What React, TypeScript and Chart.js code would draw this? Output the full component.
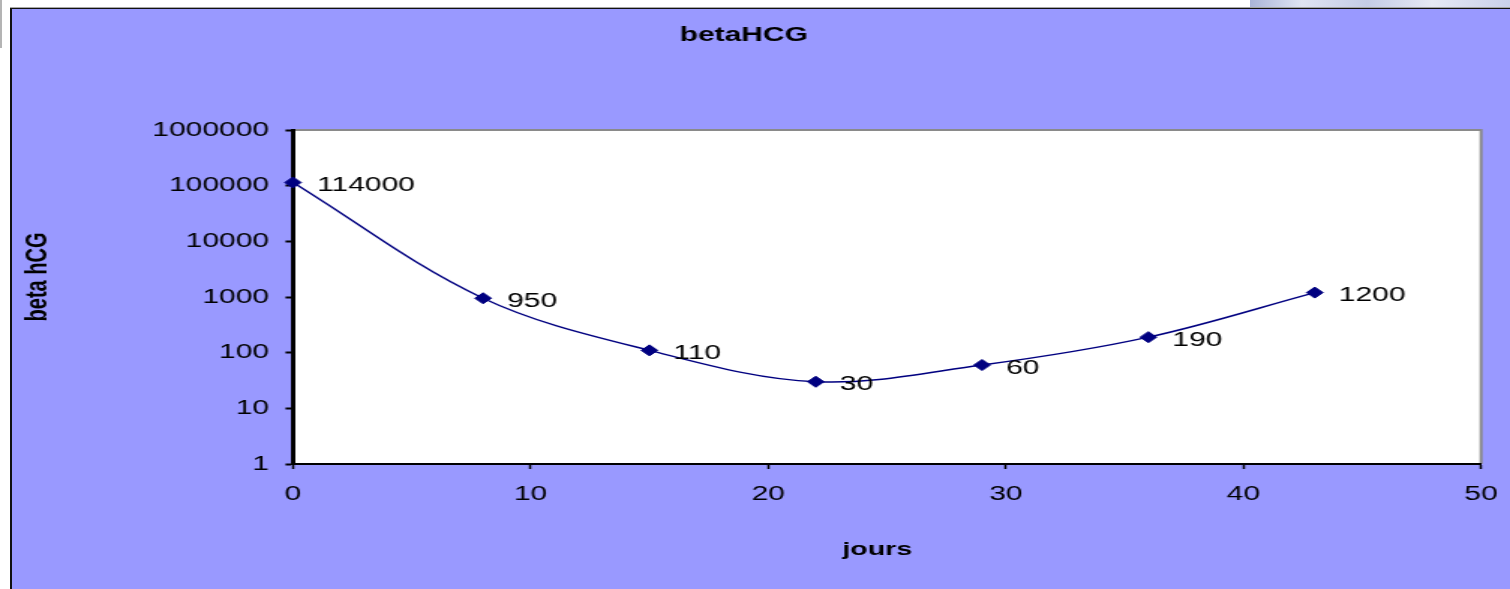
import React, { useEffect, useRef } from "react";
import { Chart, registerables } from "chart.js";
Chart.register(...registerables);

// ---- data ----
const days = [0, 8, 15, 22, 29, 36, 43];
const hcgValues = [114000, 950, 110, 30, 60, 190, 1200];
const pointLabels = ["114000", "950", "110", "30", "60", "190", "1200"];
const yTickValues = [1, 10, 100, 1000, 10000, 100000, 1000000];
const xMin = 0;
const xMax = 50;
const xStep = 10;
const chartTitle = "betaHCG";
const yTitle = "beta hCG";
const xTitle = "jours";

// ---- layout (canvas is drawn narrow and stretched horizontally like the reference) ----
const W = 1007;
const H = 589;
const SX = 1510 / W;
const FONT = "'Liberation Sans', Arial, Helvetica, sans-serif";
const NAVY = "#000080";

const decorPlugin = {
  id: "decor",
  beforeDraw(chart: any) {
    const { ctx, chartArea: a } = chart;
    ctx.save();
    ctx.fillStyle = "#ffffff";
    ctx.fillRect(a.left, a.top, a.right - a.left, a.bottom - a.top);
    ctx.strokeStyle = "#8a8a8a";
    ctx.lineWidth = 2;
    ctx.beginPath();
    ctx.moveTo(a.left, a.top);
    ctx.lineTo(a.right, a.top);
    ctx.lineTo(a.right, a.bottom);
    ctx.stroke();
    ctx.restore();
  },
  afterDatasetsDraw(chart: any) {
    const { ctx } = chart;
    const meta = chart.getDatasetMeta(0);
    ctx.save();
    ctx.fillStyle = "#000000";
    ctx.font = `20px ${FONT}`;
    ctx.textAlign = "left";
    ctx.textBaseline = "middle";
    meta.data.forEach((pt: any, i: number) => {
      ctx.fillText(pointLabels[i], pt.x + 16, pt.y + 3);
    });
    ctx.restore();
  },
  afterDraw(chart: any) {
    const { ctx } = chart;
    ctx.save();
    ctx.fillStyle = "#000000";
    ctx.textAlign = "center";
    ctx.textBaseline = "middle";
    ctx.font = `bold 20px ${FONT}`;
    ctx.fillText(chartTitle, 496, 35);
    ctx.font = `bold 19px ${FONT}`;
    ctx.fillText(xTitle, 585, 550);
    ctx.translate(25, 277);
    ctx.rotate(-Math.PI / 2);
    ctx.font = `bold 20px ${FONT}`;
    ctx.fillText(yTitle, 0, 0);
    ctx.restore();
  },
};

export default function App() {
  const canvasRef = useRef<HTMLCanvasElement | null>(null);

  useEffect(() => {
    const canvas = canvasRef.current;
    if (!canvas) return;
    const chart = new Chart(canvas, {
      type: "line",
      data: {
        datasets: [
          {
            label: "betaHCG",
            data: days.map((d, i) => ({ x: d, y: hcgValues[i] })),
            borderColor: NAVY,
            backgroundColor: NAVY,
            borderWidth: 1.5,
            tension: 0.35,
            pointStyle: "rectRot",
            pointRadius: 5.5,
            pointBackgroundColor: NAVY,
            pointBorderColor: NAVY,
            pointBorderWidth: 1,
            clip: false,
            fill: false,
          } as any,
        ],
      },
      options: {
        animation: false,
        responsive: false,
        maintainAspectRatio: false,
        devicePixelRatio: 1,
        events: [],
        layout: { padding: { top: 130, right: 19.3, left: 0, bottom: 0 } },
        plugins: {
          legend: { display: false },
          title: { display: false },
          tooltip: { enabled: false },
        },
        scales: {
          x: {
            type: "linear",
            min: xMin,
            max: xMax,
            ticks: {
              stepSize: xStep,
              color: "#000",
              font: { size: 20, family: FONT },
              padding: 13,
              maxRotation: 0,
            },
            grid: {
              display: true,
              drawOnChartArea: false,
              drawTicks: true,
              tickLength: 5,
              tickWidth: 1.5,
              color: "#000",
              tickColor: "#000",
            },
            border: { display: true, color: "#000", width: 2 },
            afterFit(scale: any) {
              scale.height = 125;
              scale.paddingLeft = 0;
              scale.paddingRight = 0;
            },
          },
          y: {
            type: "logarithmic",
            min: 1,
            max: 1000000,
            afterBuildTicks(scale: any) {
              scale.ticks = yTickValues.map((v) => ({ value: v }));
            },
            ticks: {
              color: "#000",
              font: { size: 20, family: FONT },
              padding: 11,
              callback: (v: any) => String(v),
            },
            grid: {
              display: true,
              drawOnChartArea: false,
              drawTicks: true,
              tickLength: 5,
              tickWidth: 2,
              color: "#000",
              tickColor: "#000",
            },
            border: { display: true, color: "#000", width: 3 },
            afterFit(scale: any) {
              scale.width = 195.4;
              scale.paddingTop = 0;
              scale.paddingBottom = 0;
            },
          },
        },
      } as any,
      plugins: [decorPlugin],
    });
    return () => chart.destroy();
  }, []);

  return (
    <div
      style={{
        position: "fixed",
        left: 0,
        top: 0,
        width: 1510,
        height: 589,
        background: "#ffffff",
        overflow: "hidden",
      }}
    >
      <div style={{ position: "absolute", left: 0, top: 0, width: 2, height: 48, background: "#b4b4b4" }} />
      <div
        style={{
          position: "absolute",
          left: 1250,
          top: 0,
          width: 260,
          height: 7,
          background: "linear-gradient(90deg, #aab4d8 0%, #dfe4f2 20%, #c4cce6 45%, #e6e9f4 70%, #c9d0ea 100%)",
        }}
      />
      <div style={{ position: "absolute", left: 10, top: 7, width: 1500, height: 1, background: "#a8a8a8" }} />
      <div
        style={{
          position: "absolute",
          left: 10,
          top: 8,
          width: 1500,
          height: 581,
          background: "#9999FF",
          borderTop: "1px solid #111",
          borderLeft: "2px solid #111",
          boxSizing: "border-box",
        }}
      />
      <div
        style={{
          position: "absolute",
          left: 0,
          top: 0,
          width: W,
          height: H,
          transform: `scaleX(${SX})`,
          transformOrigin: "0 0",
        }}
      >
        <canvas ref={canvasRef} width={W} height={H} style={{ display: "block", width: W, height: H }} />
      </div>
    </div>
  );
}
